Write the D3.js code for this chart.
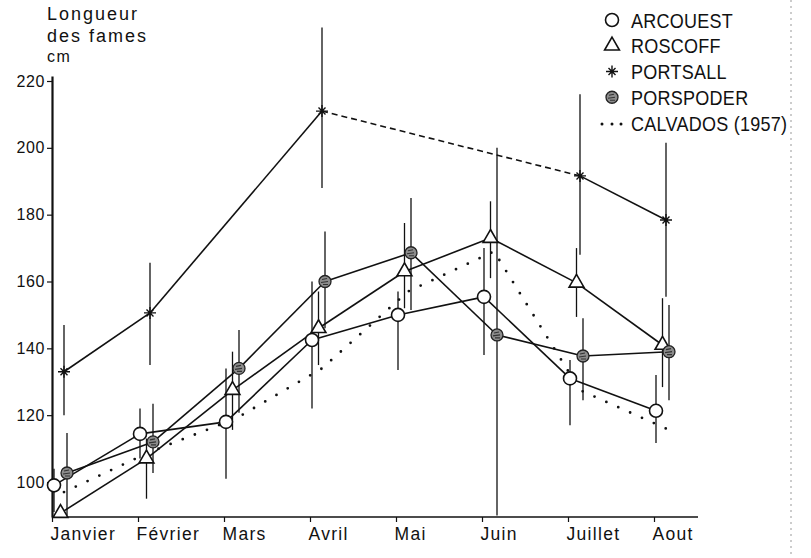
<!DOCTYPE html>
<html>
<head>
<meta charset="utf-8">
<script src="https://cdn.jsdelivr.net/npm/d3@7"></script>
<style>
  body { margin: 0; background: #fff; }
  svg { display: block; }
  text { font-family: "Liberation Sans", Arial, sans-serif; fill: #111; }
</style>
</head>
<body>
<div id="vis"></div>
<script>
// months on the x axis
const months = ["Janvier", "Février", "Mars", "Avril", "Mai", "Juin", "Juillet", "Aout"];
const yTicks = [100, 120, 140, 160, 180, 200, 220];

// mean blade length (cm) and the ends of the vertical bars
const arcouest   = [99, 114.4, 118, 142.5, 150, 155.4, 131, 121.3];
const arcouestHi = [104, 122, 134, 160, 157, 170, 136.5, 132];
const arcouestLo = [91, 107, 101, 122, 133.5, 138, 117, 111.7];

const roscoff   = [90.7, 107, 127.5, 146, 163, 173, 159.6, 141];
const roscoffHi = [null, 113, 139, 157, 177.5, 184, 170, 155];
const roscoffLo = [null, 95, 115.6, 135, 152, 161, 149.4, 128.4];

const portsall   = [133, 150.6, null, 211, null, null, 191.6, 178.4];
const portsallHi = [147, 165.6, null, 236, null, null, 216, 201.5];
const portsallLo = [120, 135, null, 188, null, null, 168, 155.4];
// segments of the portsall line drawn dashed (start month)
const portsallDashedFrom = ["Avril"];

const porspoder   = [102.7, 112, 134, 160, 168.6, 144, 137.7, 139];
const porspoderHi = [114.7, 123.4, 145.5, 175, 185, 200, 149, 153];
const porspoderLo = [90, 102.7, 120.7, 146, 151.5, 90, 124.5, 124.5];

const calvados = [97, 109, 119, 134, 157, 169, 127.5, 116];

const legendLabels = ["ARCOUEST", "ROSCOFF", "PORTSALL", "PORSPODER", "CALVADOS (1957)"];

const width = 811, height = 558;
const svg = d3.select("#vis").append("svg").attr("width", width).attr("height", height);

const x = d3.scalePoint().domain(months).range([52, 654]);
const y = d3.scaleLinear().domain([100, 220]).range([482, 81]);
const yBottom = 517, yTop = 76;

// scan page border on the right
svg.append("line").attr("x1", 791).attr("x2", 791).attr("y1", 0).attr("y2", height)
  .attr("stroke", "#999").attr("stroke-width", 1).attr("stroke-dasharray", "2,4");

// axes
const yAxisScale = y.copy().domain([y.invert(yBottom), y.invert(yTop)]).range([yBottom, yTop]);
const gy = svg.append("g").attr("transform", "translate(52,0)")
  .call(d3.axisLeft(yAxisScale).tickValues(yTicks).tickSize(5).tickSizeOuter(0).tickPadding(2).tickFormat(d3.format("d")));
gy.select(".domain").attr("stroke", "#111").attr("stroke-width", 2.2);
gy.selectAll(".tick line").attr("stroke", "#111").attr("stroke-width", 1.2);
gy.selectAll(".tick text").attr("font-size", 16).attr("letter-spacing", 0.6).attr("fill", "#111")
  .attr("font-family", "Liberation Sans, Arial, sans-serif");

const xAxisScale = d3.scaleLinear().domain([0, 1]).range([52, 698]);
svg.append("line").attr("x1", xAxisScale(0)).attr("x2", xAxisScale(1)).attr("y1", yBottom).attr("y2", yBottom)
  .attr("stroke", "#111").attr("stroke-width", 1.6);
const gx = svg.append("g").attr("transform", "translate(0," + yBottom + ")")
  .call(d3.axisBottom(x).tickSize(5).tickSizeOuter(0));
gx.select(".domain").remove();
gx.selectAll(".tick line").attr("stroke", "#111").attr("stroke-width", 1.2);
gx.selectAll(".tick text").attr("text-anchor", "start").attr("x", -2).attr("y", 23).attr("dy", null)
  .attr("font-size", 17.5).attr("letter-spacing", 1.3).attr("fill", "#111")
  .attr("font-family", "Liberation Sans, Arial, sans-serif");

// y axis title
const title = svg.append("text").attr("font-size", 18).attr("letter-spacing", 2);
title.append("tspan").attr("x", 47).attr("y", 20).text("Longueur");
title.append("tspan").attr("x", 47).attr("y", 42).text("des fames");
svg.append("text").attr("x", 47).attr("y", 62).attr("font-size", 16).attr("letter-spacing", 1.5).text("cm");

// series
const series = [
  { name: "arcouest", v: arcouest, hi: arcouestHi, lo: arcouestLo, dx: 2 },
  { name: "roscoff", v: roscoff, hi: roscoffHi, lo: roscoffLo, dx: 8.5 },
  { name: "portsall", v: portsall, hi: portsallHi, lo: portsallLo, dx: 12 },
  { name: "porspoder", v: porspoder, hi: porspoderHi, lo: porspoderLo, dx: 15 }
];

// calvados dotted line
const calvLine = d3.line().x((d, i) => x(months[i]) + 12).y(d => y(d));
svg.append("path").attr("d", calvLine(calvados)).attr("fill", "none")
  .attr("stroke", "#111").attr("stroke-width", 2.8).attr("stroke-linecap", "round")
  .attr("stroke-dasharray", "0,13");

// error bars
series.forEach(s => {
  svg.append("g").selectAll("line")
    .data(months.map((m, i) => ({ m, hi: s.hi[i], lo: s.lo[i] })).filter(d => d.hi != null))
    .join("line")
    .attr("x1", d => x(d.m) + s.dx).attr("x2", d => x(d.m) + s.dx)
    .attr("y1", d => y(d.hi)).attr("y2", d => Math.min(y(d.lo), yBottom))
    .attr("stroke", "#111").attr("stroke-width", 1.3);
});

// connecting lines
series.forEach(s => {
  const pts = months.map((m, i) => ({ m, v: s.v[i] })).filter(d => d.v != null);
  for (let k = 0; k < pts.length - 1; k++) {
    const a = pts[k], b = pts[k + 1];
    const dashed = s.name === "portsall" && portsallDashedFrom.includes(a.m);
    svg.append("line")
      .attr("x1", x(a.m) + s.dx).attr("y1", y(a.v))
      .attr("x2", x(b.m) + s.dx).attr("y2", y(b.v))
      .attr("stroke", "#111").attr("stroke-width", 1.6)
      .attr("stroke-dasharray", dashed ? "6,4" : null);
  }
});

// markers
function drawMarker(g, name, cx, cy) {
  if (name === "arcouest") {
    g.append("circle").attr("cx", cx).attr("cy", cy).attr("r", 6.5)
      .attr("fill", "#fff").attr("stroke", "#111").attr("stroke-width", 1.6);
  } else if (name === "roscoff") {
    g.append("path").attr("transform", "translate(" + cx + "," + cy + ")")
      .attr("d", d3.symbol(d3.symbolTriangle, 95)())
      .attr("fill", "#fff").attr("stroke", "#111").attr("stroke-width", 1.6);
  } else if (name === "portsall") {
    g.append("path").attr("transform", "translate(" + cx + "," + cy + ")")
      .attr("d", "M-6,0H6M0,-6V6M-3.5,-3.5L3.5,3.5M-3.5,3.5L3.5,-3.5")
      .attr("stroke", "#111").attr("stroke-width", 1.4).attr("fill", "none");
  } else if (name === "porspoder") {
    g.append("circle").attr("cx", cx).attr("cy", cy).attr("r", 6)
      .attr("fill", "#8c8c8c").attr("stroke", "#222").attr("stroke-width", 1.3);
    g.append("path").attr("transform", "translate(" + cx + "," + cy + ")")
      .attr("d", "M-3,-2L2,-3M-4,1L3,0M-2,3L3,3")
      .attr("stroke", "#333").attr("stroke-width", 1.2).attr("fill", "none");
  }
}
series.forEach(s => {
  const g = svg.append("g");
  months.forEach((m, i) => {
    if (s.v[i] != null) drawMarker(g, s.name, x(m) + s.dx, y(s.v[i]));
  });
});

// legend
const legend = svg.append("g");
const rowY = d3.scalePoint().domain(legendLabels).range([20, 123]);
legendLabels.forEach((lab, i) => {
  const cy = rowY(lab);
  if (i < 4) drawMarker(legend, series[i].name, 612, cy);
  else {
    [602, 612, 621].forEach(dx => legend.append("circle").attr("cx", dx).attr("cy", cy + 1).attr("r", 1.5).attr("fill", "#111"));
  }
  legend.append("text").attr("transform", "translate(631," + (cy + 7.5) + ") scale(0.9,1)")
    .attr("font-size", 20).attr("letter-spacing", 0.3).text(lab);
});
</script>
</body>
</html>
